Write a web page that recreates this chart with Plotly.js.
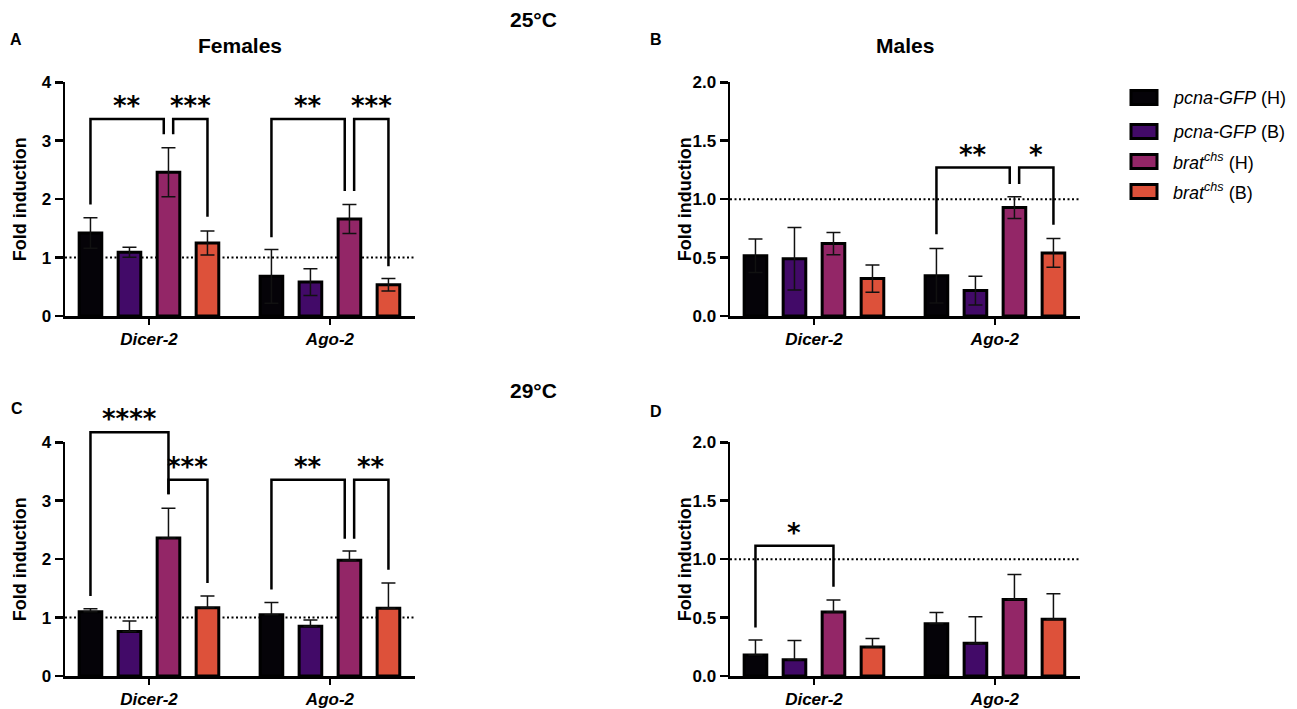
<!DOCTYPE html>
<html><head><meta charset="utf-8">
<script src="https://cdn.plot.ly/plotly-3.0.1.min.js"></script>
<style>html,body{margin:0;padding:0;background:#fff}</style>
</head><body><div id="chart" style="width:1297px;height:709px"></div>
<script>
// ---------- data ----------
const genes = ['Dicer-2', 'Ago-2'];
const seriesNames = ['pcna-GFP (H)', 'pcna-GFP (B)', 'brat chs (H)', 'brat chs (B)'];
const seriesLabels = ['<i>pcna-GFP</i> (H)', '<i>pcna-GFP</i> (B)', '<i>brat<sup>chs</sup></i> (H)', '<i>brat<sup>chs</sup></i> (B)'];
const seriesColors = ['#050308', '#420a68', '#932667', '#dd513a'];

// A: Females 25°C  (per series: [Dicer-2, Ago-2])
const femalesWarm = [[1.42, 0.68], [1.09, 0.58], [2.46, 1.66], [1.25, 0.535]];
const femalesWarmErr = [[0.26, 0.46], [0.085, 0.23], [0.42, 0.25], [0.205, 0.105]];
// B: Males 25°C
const malesWarm = [[0.515, 0.345], [0.49, 0.218], [0.62, 0.928], [0.32, 0.54]];
const malesWarmErr = [[0.143, 0.233], [0.267, 0.123], [0.095, 0.093], [0.117, 0.123]];
// C: Females 29°C (upper error only)
const femalesHot = [[1.10, 1.05], [0.76, 0.85], [2.36, 1.98], [1.17, 1.16]];
const femalesHotErr = [[0.05, 0.21], [0.18, 0.11], [0.51, 0.16], [0.20, 0.43]];
// D: Males 29°C (upper error only)
const malesHot = [[0.18, 0.448], [0.14, 0.28], [0.548, 0.654], [0.248, 0.485]];
const malesHotErr = [[0.129, 0.095], [0.163, 0.226], [0.103, 0.215], [0.072, 0.218]];

// significance brackets: gene index, series of left/right legs, leg offsets, bracket top, leg bottoms, label
const bracketsA = [
  {g: 0, s1: 0, o1: 0, s2: 2, o2: -1, top: 3.37, y1: 1.91, y2: 3.11, txt: '**'},
  {g: 0, s1: 2, o1: 1, s2: 3, o2: 0, top: 3.37, y1: 3.11, y2: 1.70, txt: '***'},
  {g: 1, s1: 0, o1: 0, s2: 2, o2: -1, top: 3.37, y1: 1.35, y2: 2.14, txt: '**'},
  {g: 1, s1: 2, o1: 1, s2: 3, o2: 0, top: 3.37, y1: 2.14, y2: 0.85, txt: '***'}
];
const bracketsB = [
  {g: 1, s1: 0, o1: 0, s2: 2, o2: -1, top: 1.27, y1: 0.70, y2: 1.13, txt: '**'},
  {g: 1, s1: 2, o1: 1, s2: 3, o2: 0, top: 1.27, y1: 1.13, y2: 0.78, txt: '*'}
];
const bracketsC = [
  {g: 0, s1: 0, o1: 0, s2: 2, o2: 0, top: 4.17, y1: 1.37, y2: 3.11, txt: '****'},
  {g: 0, s1: 2, o1: 0, s2: 3, o2: 0, top: 3.36, y1: 3.11, y2: 1.59, txt: '***'},
  {g: 1, s1: 0, o1: 0, s2: 2, o2: -1, top: 3.36, y1: 1.48, y2: 2.35, txt: '**'},
  {g: 1, s1: 2, o1: 1, s2: 3, o2: 0, top: 3.36, y1: 2.35, y2: 1.82, txt: '**'}
];
const bracketsD = [
  {g: 0, s1: 0, o1: 0, s2: 2, o2: 0, top: 1.114, y1: 0.414, y2: 0.763, txt: '*'}
];

// ---------- layout constants ----------
const W = 1297, H = 709;
const FONT = 'Liberation Sans, Arial, sans-serif';
const bargap = 0.138, bargroupgap = 0.42;
const slot = (1 - bargap) / 4;
const legOff = 0.026;
const xr = [-0.464, 1.47];

const panels = [
  {id: '', px: [65, 415], py: [82.3, 316], ymax: 4, tv: [0,1,2,3,4], tt: ['0','1','2','3','4'],
   vals: femalesWarm, errs: femalesWarmErr, upperOnly: false, br: bracketsA},
  {id: '2', px: [730, 1080], py: [82.3, 316], ymax: 2, tv: [0,0.5,1,1.5,2], tt: ['0.0','0.5','1.0','1.5','2.0'],
   vals: malesWarm, errs: malesWarmErr, upperOnly: false, br: bracketsB},
  {id: '3', px: [65, 415], py: [442.3, 676], ymax: 4, tv: [0,1,2,3,4], tt: ['0','1','2','3','4'],
   vals: femalesHot, errs: femalesHotErr, upperOnly: true, br: bracketsC},
  {id: '4', px: [730, 1080], py: [442.3, 676], ymax: 2, tv: [0,0.5,1,1.5,2], tt: ['0.0','0.5','1.0','1.5','2.0'],
   vals: malesHot, errs: malesHotErr, upperOnly: true, br: bracketsD}
];

const traces = [];
const shapes = [];
const annotations = [];
const layout = {
  width: W, height: H, margin: {l: 0, r: 0, t: 0, b: 0},
  paper_bgcolor: '#fff', plot_bgcolor: 'rgba(0,0,0,0)',
  barmode: 'group', bargap: bargap, bargroupgap: bargroupgap,
  showlegend: false, font: {family: FONT, color: '#000'}
};

function pxX(v) { return v / W; }
function pxY(v) { return 1 - v / H; }

panels.forEach(p => {
  const xd = [pxX(p.px[0]), pxX(p.px[1])];
  const yd = [pxY(p.py[1]), pxY(p.py[0])];
  const xa = 'x' + p.id, ya = 'y' + p.id;
  layout['xaxis' + p.id] = {
    domain: xd, range: xr, anchor: ya, tickvals: [0, 1], ticktext: genes,
    ticks: 'outside', ticklen: 6, tickwidth: 2.5, tickcolor: '#000',
    showline: true, linewidth: 2.5, linecolor: '#000', showgrid: false, zeroline: false,
    tickfont: {family: FONT, size: 17, weight: 'bold', style: 'italic', color: '#000'}
  };
  layout['yaxis' + p.id] = {
    domain: yd, range: [0, p.ymax], anchor: xa, tickvals: p.tv, ticktext: p.tt,
    ticks: 'outside', ticklen: 8, tickwidth: 2.5, tickcolor: '#000',
    showline: true, linewidth: 2.5, linecolor: '#000', showgrid: false, zeroline: false,
    tickfont: {family: FONT, size: 17, weight: 'bold', color: '#000'}
  };
  // data -> paper helpers
  const toX = v => xd[0] + (v - xr[0]) / (xr[1] - xr[0]) * (xd[1] - xd[0]);
  const toY = v => yd[0] + v / p.ymax * (yd[1] - yd[0]);

  // reference line at 1
  shapes.push({type: 'line', xref: 'paper', yref: 'paper', layer: 'below',
    x0: xd[0], x1: xd[1], y0: toY(1), y1: toY(1),
    line: {color: '#000', width: 2, dash: '2px,2.5px'}});

  seriesNames.forEach((name, s) => {
    const err = {type: 'data', array: p.errs[s], visible: true, color: '#111', thickness: 1.5, width: 7};
    if (p.upperOnly) { err.symmetric = false; err.arrayminus = p.errs[s].map(() => 0); }
    traces.push({
      type: 'bar', name: name, x: [0, 1], y: p.vals[s], xaxis: xa, yaxis: ya,
      marker: {color: seriesColors[s], line: {color: '#000', width: 3}},
      error_y: err, showlegend: false, hoverinfo: 'y'
    });
  });

  // brackets
  p.br.forEach(b => {
    const xL = toX(b.g + (b.s1 - 1.5) * slot + b.o1 * legOff);
    const xR = toX(b.g + (b.s2 - 1.5) * slot + b.o2 * legOff);
    const yT = toY(b.top);
    shapes.push({type: 'path', xref: 'paper', yref: 'paper', layer: 'above',
      path: `M${xL},${toY(b.y1)} L${xL},${yT} L${xR},${yT} L${xR},${toY(b.y2)}`,
      line: {color: '#000', width: 2.5}});
    annotations.push({xref: 'paper', yref: 'paper', x: (xL + xR) / 2, y: yT,
      xanchor: 'center', yanchor: 'middle', yshift: 13, showarrow: false, text: b.txt,
      font: {family: 'DejaVu Sans, sans-serif', size: 26, weight: 'bold', color: '#000'}});
  });

  // y-axis title
  annotations.push({xref: 'paper', yref: 'paper', x: pxX(p.px[0] - 45), y: (yd[0] + yd[1]) / 2,
    xanchor: 'center', yanchor: 'middle', textangle: -90, showarrow: false, text: 'Fold induction',
    font: {family: FONT, size: 18, weight: 'bold', color: '#000'}});
});

// titles and panel letters
const texts = [
  {t: '25°C', x: 533, y: 20, s: 21}, {t: '29°C', x: 533, y: 390, s: 21},
  {t: 'Females', x: 240, y: 45, s: 21}, {t: 'Males', x: 905, y: 45, s: 21},
  {t: 'A', x: 16, y: 39, s: 16}, {t: 'B', x: 656, y: 39, s: 16},
  {t: 'C', x: 17, y: 408, s: 16}, {t: 'D', x: 656, y: 411, s: 16}
];
texts.forEach(o => annotations.push({xref: 'paper', yref: 'paper', x: pxX(o.x), y: pxY(o.y),
  xanchor: 'center', yanchor: 'middle', showarrow: false, text: o.t,
  font: {family: FONT, size: o.s, weight: 'bold', color: '#000'}}));

// legend
const legendRows = [97.5, 131.5, 161.5, 191.5];
seriesLabels.forEach((lab, s) => {
  const cy = legendRows[s];
  shapes.push({type: 'rect', xref: 'paper', yref: 'paper',
    x0: pxX(1131), x1: pxX(1157), y0: pxY(cy + 7), y1: pxY(cy - 7),
    fillcolor: seriesColors[s], line: {color: '#000', width: 3}});
  annotations.push({xref: 'paper', yref: 'paper', x: pxX(1171), y: pxY(cy),
    xanchor: 'left', yanchor: 'middle', showarrow: false, text: lab,
    font: {family: FONT, size: 18, color: '#000'}});
});

layout.shapes = shapes;
layout.annotations = annotations;
Plotly.newPlot('chart', traces, layout, {displayModeBar: false, staticPlot: true});
</script></body></html>
